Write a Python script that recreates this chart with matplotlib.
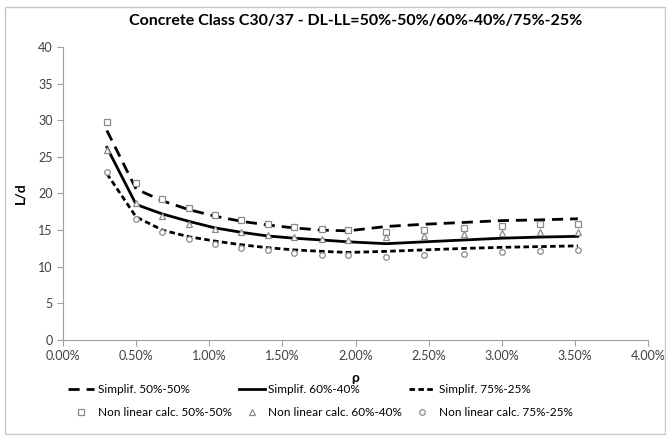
import numpy as np
import matplotlib
matplotlib.use("Agg")
import matplotlib.pyplot as plt
from matplotlib.patches import Rectangle
from matplotlib.ticker import FuncFormatter, MultipleLocator

plt.rcParams['font.family'] = ['Lato', 'DejaVu Sans']

# reinforcement ratio rho (%)
rho = [0.30, 0.50, 0.68, 0.86, 1.04, 1.22, 1.40, 1.58, 1.77, 1.95,
       2.21, 2.47, 2.74, 3.00, 3.26, 3.52]

# simplified method, L/d
simp_50 = [28.6, 20.6, 19.0, 17.8, 16.9, 16.2, 15.7, 15.3, 15.0, 14.9,
           15.5, 15.8, 16.05, 16.3, 16.4, 16.55]
simp_60 = [26.3, 18.5, 17.2, 16.2, 15.3, 14.7, 14.2, 13.9, 13.65, 13.4,
           13.15, 13.4, 13.65, 13.9, 14.05, 14.15]
simp_75 = [22.7, 16.8, 15.0, 14.1, 13.5, 13.0, 12.6, 12.3, 12.1, 11.95,
           12.1, 12.3, 12.5, 12.65, 12.75, 12.85]

# non linear calculation, L/d
nl_50 = [29.7, 21.4, 19.2, 18.0, 17.0, 16.4, 15.8, 15.4, 15.15, 15.0,
         14.8, 15.05, 15.3, 15.6, 15.8, 15.9]
nl_60 = [26.0, 18.7, 16.9, 15.9, 15.2, 14.8, 14.4, 14.05, 13.8, 13.7,
         14.05, 14.15, 14.45, 14.6, 14.7, 14.8]
nl_75 = [23.0, 16.5, 14.7, 13.8, 13.15, 12.55, 12.25, 11.9, 11.65, 11.55,
         11.3, 11.6, 11.8, 12.0, 12.2, 12.25]

fig = plt.figure(figsize=(6.66, 4.36), dpi=100)
ax = fig.add_axes([0.0946, 0.2202, 0.8784, 0.6720])

# light frame round the chart, as in the spreadsheet export
fig.patches.append(Rectangle((0.008, 0.005), 0.99, 0.978, transform=fig.transFigure,
                             fill=False, edgecolor='#c8c8c8', linewidth=1))

l50, = ax.plot(rho, simp_50, color='black', lw=2, dashes=(4, 2.5), label='Simplif. 50%-50%')
l60, = ax.plot(rho, simp_60, color='black', lw=2, label='Simplif. 60%-40%')
l75, = ax.plot(rho, simp_75, color='black', lw=2, dashes=(2, 1.2), label='Simplif. 75%-25%')

mk = dict(ls='none', mfc='white', mec='#8a8a8a', mew=0.9, ms=4)
m50, = ax.plot(rho, nl_50, marker='s', label='Non linear calc. 50%-50%', **mk)
m60, = ax.plot(rho, nl_60, marker='^', label='Non linear calc. 60%-40%', **mk)
m75, = ax.plot(rho, nl_75, marker='o', label='Non linear calc. 75%-25%', **mk)

ax.set_xlim(0, 4)
ax.set_ylim(0, 40)
ax.xaxis.set_major_locator(MultipleLocator(0.5))
ax.yaxis.set_major_locator(MultipleLocator(5))
ax.xaxis.set_major_formatter(FuncFormatter(lambda v, p: f'{v:.2f}%'))

for s in ['top', 'right']:
    ax.spines[s].set_visible(False)
for s in ['left', 'bottom']:
    ax.spines[s].set_color('#a0a0a0')
ax.tick_params(direction='out', length=4, color='#a0a0a0', labelsize=9,
               labelcolor='#404040')

ax.set_title('Concrete Class C30/37 - DL-LL=50%-50%/60%-40%/75%-25%',
             fontsize=11.5, fontweight='bold', pad=16)
ax.set_xlabel('ρ', fontsize=10, fontweight='bold', labelpad=7)
ax.set_ylabel('L/d', fontsize=10, fontweight='bold', labelpad=8)

handles = [l50, m50, l60, m60, l75, m75]
ax.legend(handles=handles, ncol=3, loc='upper center', bbox_to_anchor=(0.44, -0.115),
          frameon=False, fontsize=8.5, handlelength=2.2, columnspacing=0.6,
          labelspacing=1.0, handletextpad=0.3)

fig.savefig('out.png', dpi=100)
